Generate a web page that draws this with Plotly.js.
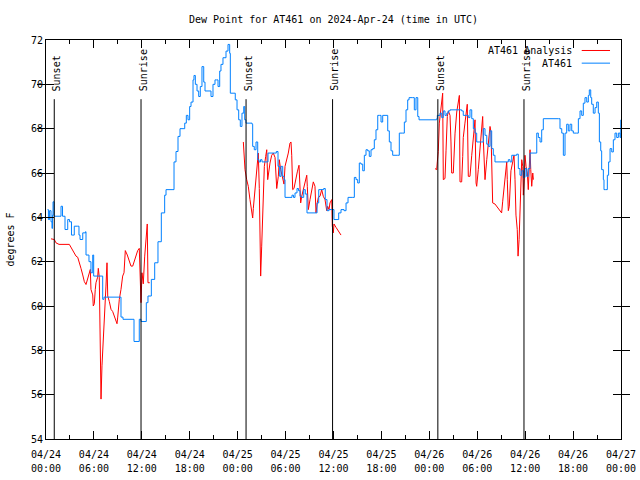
<!DOCTYPE html>
<html>
<head>
<meta charset="utf-8">
<script src="https://cdn.plot.ly/plotly-3.0.1.min.js"></script>
<style>html,body{margin:0;padding:0;background:#fff}#chart{width:640px;height:480px}</style>
</head>
<body>
<div id="chart"></div>
<script>
// Hours after 2024-04-24 00:00 UTC
const obsHours = [0.19,0.30,0.45,0.63,0.75,0.81,0.88,1.00,1.75,1.88,2.07,2.38,2.72,2.94,3.19,3.38,3.54,3.97,4.13,4.26,4.60,4.95,5.01,5.38,5.63,5.85,5.97,6.89,7.10,7.26,9.14,9.39,9.64,10.89,11.02,11.52,11.68,11.90,12.40,12.56,12.77,13.19,13.61,14.02,14.44,14.86,15.03,15.90,16.03,16.28,16.53,16.78,17.16,17.37,17.57,17.78,17.99,18.16,18.41,18.53,18.70,18.91,19.12,19.32,19.53,19.75,19.91,20.54,20.66,20.91,21.16,21.35,21.54,21.75,21.91,22.16,22.54,22.79,23.00,23.08,23.54,23.70,23.92,24.13,24.33,24.54,24.76,24.88,25.04,25.54,25.80,25.88,26.08,26.30,26.51,26.67,26.86,27.05,27.67,27.80,28.68,28.84,29.05,29.26,29.43,29.64,29.80,29.93,30.55,30.80,30.99,31.18,31.43,31.62,31.81,32.02,32.27,32.47,32.68,33.68,33.94,34.15,34.56,34.77,34.97,35.19,35.44,35.81,36.06,36.56,36.65,36.94,37.32,37.57,37.82,38.41,38.61,38.82,39.03,39.23,39.44,39.66,39.86,40.07,40.28,40.48,40.70,40.91,41.11,41.32,41.54,41.74,41.95,42.16,42.57,42.79,42.99,43.20,43.41,44.04,44.24,44.67,44.87,45.08,45.29,45.46,45.92,46.12,46.33,46.55,46.71,48.92,49.00,49.34,49.55,49.75,49.96,50.18,50.38,50.59,51.84,52.05,52.25,52.68,52.88,53.09,53.31,53.51,53.72,53.93,54.56,54.76,54.97,55.19,55.39,55.60,55.81,56.01,56.22,57.69,57.89,58.10,58.32,58.73,58.94,59.14,59.35,59.57,59.77,59.98,60.19,60.39,60.61,61.23,61.45,61.65,61.86,62.07,62.27,64.15,64.36,64.58,64.78,64.99,65.20,65.40,65.61,65.83,66.03,66.45,66.66,66.87,67.08,67.28,67.49,67.71,67.91,68.03,68.21,68.33,68.53,68.75,68.96,69.16,69.29,69.46,69.58,69.79,69.87,70.08,70.29,70.45,70.63,70.84,71.04,71.25,71.46,71.67,71.88,71.97];
const obsDew = [64.35,63.9,64.3,63.8,63.5,64.1,64.7,64.05,64.05,64.5,64.05,63.45,63.9,63.8,63.2,63.2,63.6,63.6,63.2,63.0,63.3,63.35,62.3,62.0,61.5,62.3,61.35,61.35,60.3,60.4,60.4,59.5,59.4,59.4,58.4,58.4,59.4,59.3,59.3,60.15,60.45,61.2,61.95,62.9,64.2,65.0,65.25,65.25,66.5,66.97,67.65,68.0,68.0,68.25,68.6,68.4,69.0,69.2,70.2,70.4,70.0,69.7,69.45,69.9,70.8,70.1,69.7,69.7,69.45,70.0,70.2,70.2,69.9,70.6,70.9,71.2,71.5,71.8,71.4,69.6,69.6,69.3,68.85,68.4,68.1,68.7,69.0,68.4,68.25,68.25,68.2,67.2,67.05,67.4,66.6,66.5,66.6,66.5,66.5,66.9,66.9,66.97,66.3,65.85,66.3,65.85,65.7,64.9,64.9,65.0,64.9,65.1,65.3,65.2,64.95,64.9,65.25,65.05,64.2,64.2,64.65,65.25,65.25,65.3,64.8,64.3,64.35,64.35,63.9,63.9,64.2,64.35,64.3,64.65,64.9,64.9,65.8,65.7,65.55,66.45,66.4,66.1,66.8,67.05,67.0,66.75,67.05,67.1,67.5,67.95,68.6,68.6,68.3,68.6,68.6,67.9,67.4,67.0,66.8,66.8,67.8,67.8,68.3,68.85,69.3,69.4,69.4,68.85,69.4,68.55,68.4,68.45,68.6,68.7,68.5,68.8,68.6,68.7,68.8,68.85,68.85,68.8,68.6,68.6,68.5,68.85,68.45,68.0,67.8,67.4,67.4,68.0,67.7,67.3,67.2,67.9,67.1,66.8,66.5,66.5,66.6,66.5,66.8,66.8,66.85,66.2,65.9,66.1,65.8,66.2,65.85,66.2,66.9,66.9,67.8,67.6,67.4,67.95,68.45,68.45,68.0,67.8,66.8,67.8,68.2,67.9,68.2,67.9,67.8,67.8,68.45,68.8,68.6,69.15,69.4,69.2,69.5,69.75,69.4,69.1,68.7,68.95,69.2,68.7,67.4,67.0,66.15,65.7,65.25,65.25,65.9,66.5,67.1,66.95,67.5,67.8,67.6,67.8,67.6,68.4];

// Analysis series, null = gap
const anaHours = [0.63,1.04,1.25,1.63,2.92,3.13,3.34,3.76,3.97,4.17,4.38,4.60,4.80,5.01,5.22,5.42,5.55,5.63,5.85,5.92,6.05,6.17,6.26,6.47,6.55,6.67,6.76,6.89,7.01,7.18,7.30,7.51,7.64,7.73,7.93,8.14,8.35,8.55,8.77,8.89,8.98,9.18,9.39,9.60,9.77,9.93,10.18,10.43,10.64,10.86,11.06,11.27,11.48,11.68,11.77,11.90,12.02,12.18,12.36,12.56,12.68,12.77,12.99,
  13.0,
  24.71,24.79,24.92,25.13,25.33,25.54,25.76,25.88,25.96,26.17,26.38,26.58,26.71,26.80,26.88,27.01,27.21,27.34,27.51,27.64,27.76,27.92,28.05,28.26,28.46,28.68,28.80,28.89,29.09,29.21,29.39,29.59,29.80,29.93,30.14,30.34,30.55,30.68,30.77,30.89,31.05,31.27,31.47,31.68,31.81,31.89,32.02,32.22,32.43,32.65,32.72,32.85,33.06,33.27,33.47,33.68,33.81,33.97,34.10,34.31,34.52,34.72,34.94,35.15,35.27,35.44,35.56,35.78,35.85,35.98,36.06,36.31,36.52,36.73,36.94,
  37.0,
  48.71,48.92,49.00,49.12,49.25,49.42,49.55,49.67,49.75,49.96,50.09,50.25,50.38,50.59,50.71,50.80,51.00,51.09,51.22,51.43,51.63,51.76,51.84,52.05,52.18,52.25,52.46,52.68,52.75,52.88,53.09,53.31,53.51,53.72,53.85,53.93,54.13,54.35,54.56,54.68,54.76,54.85,54.97,55.19,55.39,55.60,55.72,55.81,55.93,56.22,56.43,56.63,56.84,57.05,57.18,57.34,57.47,57.60,57.69,57.76,57.89,58.01,58.10,58.22,58.44,58.60,58.73,58.85,59.01,59.11,59.24,59.36,59.45,59.57,59.70,59.77,59.90,59.98,60.11,60.27,60.39,60.52,60.61,60.70,60.82,60.95,61.03];
const anaDew = [63.03,63.0,62.85,62.78,62.78,62.65,62.5,62.25,62.2,62.0,61.7,61.4,61.1,60.97,61.2,61.4,61.65,60.75,60.5,60.0,60.1,60.75,61.05,61.3,61.7,61.3,57.75,55.8,57.3,58.35,59.4,60.9,61.95,60.45,60.2,59.85,59.75,59.55,59.3,59.2,59.5,60.3,60.75,61.35,61.5,62.5,62.3,62.0,61.8,61.8,62.0,62.25,62.5,62.6,61.35,60.15,61.5,61.0,62.25,63.3,63.7,61.05,61.05,
  null,
  67.4,66.9,66.15,65.7,65.4,64.8,64.2,63.97,64.4,65.4,66.3,66.9,65.3,63.0,61.35,62.7,64.8,66.3,66.75,67.05,65.7,66.3,66.45,66.8,66.9,66.7,65.85,65.3,65.85,66.6,66.15,65.8,65.5,66.3,66.6,66.9,67.35,67.4,66.8,65.25,65.3,65.8,66.05,66.35,65.4,64.65,64.95,65.25,65.5,65.9,65.4,64.35,64.8,65.25,65.6,65.4,64.2,64.65,64.9,64.95,65.25,64.95,64.8,64.3,64.5,64.35,64.65,64.8,63.6,63.3,63.7,63.55,63.45,63.3,63.2,
  null,
  66.2,66.15,66.5,66.97,68.25,68.8,69.15,69.6,65.7,65.75,67.0,68.55,68.8,68.6,67.4,66.0,66.0,67.2,67.8,68.75,69.3,69.5,65.6,65.6,66.75,67.6,68.25,68.8,69.1,65.85,65.85,66.8,67.8,68.4,65.55,65.4,66.15,67.2,67.95,68.55,67.5,66.45,65.7,66.6,67.5,68.1,67.85,66.9,64.65,64.6,64.5,64.45,64.35,64.2,64.7,65.3,65.75,66.2,66.5,65.7,64.3,64.5,65.3,66.1,66.5,66.8,65.7,64.1,63.45,62.25,63.0,64.2,65.7,66.6,66.3,65.0,65.8,66.8,66.3,66.0,65.25,66.35,67.05,66.15,65.4,66.0,65.7];

const sunTimes = ['2024-04-24 01:02','2024-04-24 11:54','2024-04-25 01:03','2024-04-25 11:53','2024-04-26 01:04','2024-04-26 11:51'];
const sunLabels = ['Sunset','Sunrise','Sunset','Sunrise','Sunset','Sunrise'];
const sunLineTop = 69.33;
const sunLabelBase = 69.6;

const seriesNames = ['AT461 Analysis','AT461'];
const seriesColors = ['#ff0000','#0080ff'];

const BASE = Date.UTC(2024,3,24,0,0,0);
function toTime(h){
  if (h === null) return null;
  return new Date(BASE + Math.round(h*3600000)).toISOString().slice(0,19).replace('T',' ');
}
const xRange = ['2024-04-24 00:00', '2024-04-27 00:00'];

const font = {family: 'DejaVu Sans Mono, monospace', size: 10, color: '#000'};

const traces = [
  {x: anaHours.map(toTime), y: anaDew, type: 'scatter', mode: 'lines', name: seriesNames[0],
   line: {color: seriesColors[0], width: 1}, connectgaps: false, showlegend: false},
  {x: obsHours.map(toTime), y: obsDew, type: 'scatter', mode: 'lines', name: seriesNames[1],
   line: {color: seriesColors[1], width: 1, shape: 'hv'}, showlegend: false},
  // carrier for the second (time-of-day) label row
  {x: xRange, y: [null, null], xaxis: 'x2', type: 'scatter', mode: 'lines', showlegend: false, hoverinfo: 'skip'}
];

const shapes = sunTimes.map(t => ({type: 'line', xref: 'x', yref: 'y', x0: t, x1: t, y0: 54, y1: sunLineTop,
  line: {color: '#000', width: 1}}));
const annotations = sunTimes.map((t, i) => ({x: t, y: sunLabelBase, xref: 'x', yref: 'y', text: sunLabels[i],
  textangle: -90, showarrow: false, xanchor: 'center', yanchor: 'bottom', xshift: 2, font: font}));

// gnuplot-style legend: text then line sample, top-right
const legY = [0.9737, 0.942];
seriesNames.forEach((n, i) => {
  annotations.push({xref: 'paper', yref: 'paper', x: 0.9183, y: legY[i], text: n, showarrow: false,
    xanchor: 'right', yanchor: 'middle', font: font});
  shapes.push({type: 'line', xref: 'paper', yref: 'paper', x0: 0.9317, x1: 0.9809, y0: legY[i], y1: legY[i],
    line: {color: seriesColors[i], width: 1}});
});

const layout = {
  width: 640, height: 480,
  margin: {l: 46, r: 19, t: 40, b: 41},
  paper_bgcolor: '#fff', plot_bgcolor: '#fff',
  font: font,
  showlegend: false,
  title: {text: 'Dew Point for AT461 on 2024-Apr-24 (time in UTC)', font: font,
          x: 0.5, xref: 'paper', y: 0.96, yref: 'container', yanchor: 'middle'},
  xaxis: {type: 'date', range: xRange,
          tick0: '2024-04-24 00:00', dtick: 21600000, tickformat: '%m/%d', ticklabelstandoff: 6,
          ticks: 'inside', ticklen: 8, tickcolor: '#000', showline: true, linecolor: '#000', linewidth: 1,
          mirror: 'allticks', showgrid: false, zeroline: false, tickfont: font,
          minor: {dtick: 10800000, tick0: '2024-04-24 00:00', ticks: 'inside', ticklen: 4, tickcolor: '#000', showgrid: false}},
  xaxis2: {type: 'date', range: xRange, overlaying: 'x', anchor: 'y', side: 'bottom',
          tick0: '2024-04-24 00:00', dtick: 21600000, tickformat: '%H:%M', ticklabelstandoff: 22,
          ticks: '', showline: false, showgrid: false, zeroline: false, tickfont: font},
  yaxis: {range: [54, 72], dtick: 2, ticks: 'inside', ticklen: 8, tickcolor: '#000',
          showline: true, linecolor: '#000', linewidth: 1, mirror: 'allticks',
          showgrid: false, zeroline: false, tickfont: font,
          title: {text: 'degrees F', font: font, standoff: 14}},
  shapes: shapes,
  annotations: annotations
};

Plotly.newPlot('chart', traces, layout, {staticPlot: true, displayModeBar: false});
</script>
</body>
</html>
